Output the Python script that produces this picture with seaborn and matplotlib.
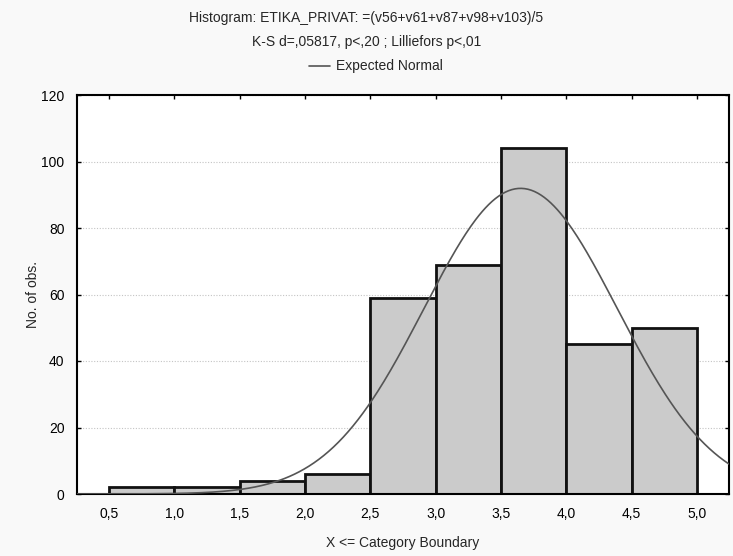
import numpy as np
import pandas as pd
import matplotlib
matplotlib.use("Agg")
import matplotlib.pyplot as plt
import seaborn as sns
from matplotlib.lines import Line2D

# ---- data ----
bin_left = [0.5, 1.0, 1.5, 2.0, 2.5, 3.0, 3.5, 4.0, 4.5]
counts = [2, 2, 4, 6, 59, 69, 104, 45, 50]
bin_width = 0.5
normal_mean = 3.65
normal_sd = 0.74
x_ticks = [0.5, 1.0, 1.5, 2.0, 2.5, 3.0, 3.5, 4.0, 4.5, 5.0]
x_tick_labels = ["0,5", "1,0", "1,5", "2,0", "2,5", "3,0", "3,5", "4,0", "4,5", "5,0"]
y_ticks = [0, 20, 40, 60, 80, 100, 120]
title_lines = ["Histogram: ETIKA_PRIVAT: =(v56+v61+v87+v98+v103)/5",
               "K-S d=,05817, p<,20 ; Lilliefors p<,01"]

sns.set_theme(style="white")
plt.rcParams["font.family"] = ["Liberation Sans", "DejaVu Sans"]

df = pd.DataFrame({"left": bin_left, "count": counts})
df["center"] = df["left"] + bin_width / 2
n_total = sum(counts)

fig = plt.figure(figsize=(7.33, 5.56), dpi=100, facecolor="#f9f9f9")
ax = fig.add_axes([77 / 733, 1 - 494 / 556, (729 - 77) / 733, (494 - 95) / 556])
ax.set_facecolor("white")

sns.histplot(data=df, x="center", weights="count", binwidth=bin_width,
             binrange=(bin_left[0], bin_left[-1] + bin_width),
             color="#cbcbcb", edgecolor="#111111", linewidth=2.0, alpha=1.0, ax=ax, zorder=2)

xs = np.linspace(0.255, 5.245, 400)
ys = n_total * bin_width * np.exp(-0.5 * ((xs - normal_mean) / normal_sd) ** 2) / (normal_sd * np.sqrt(2 * np.pi))
sns.lineplot(x=xs, y=ys, color="#555555", linewidth=1.2, ax=ax, zorder=3)

ax.set_xlim(0.255, 5.245)
ax.set_ylim(0, 120)
ax.set_xticks(x_ticks)
ax.set_xticklabels(x_tick_labels)
ax.set_yticks(y_ticks)
ax.tick_params(direction="in", length=3, width=1, colors="black", labelsize=10,
               top=True, right=True, bottom=True, left=True)
ax.tick_params(axis="x", pad=9)
ax.tick_params(axis="y", pad=9)
ax.grid(axis="y", linestyle=(0, (1, 1.5)), color="#c4c4c4", linewidth=0.8, zorder=0)
ax.set_axisbelow(True)
for s in ax.spines.values():
    s.set_color("black")
    s.set_linewidth(1.5)

ax.set_xlabel("X <= Category Boundary", fontsize=10, labelpad=11)
ax.set_ylabel("No. of obs.", fontsize=10, labelpad=1)

fig.text(0.5, 1 - 18 / 556, title_lines[0], ha="center", va="center", fontsize=10)
fig.text(0.5, 1 - 42 / 556, title_lines[1], ha="center", va="center", fontsize=10)
fig.text(336 / 733, 1 - 66 / 556, "Expected Normal", ha="left", va="center", fontsize=10)
fig.add_artist(Line2D([309 / 733, 330 / 733], [1 - 66 / 556, 1 - 66 / 556],
                      color="#555555", linewidth=1.2, transform=fig.transFigure))

fig.savefig("out.png", dpi=100, facecolor=fig.get_facecolor())
